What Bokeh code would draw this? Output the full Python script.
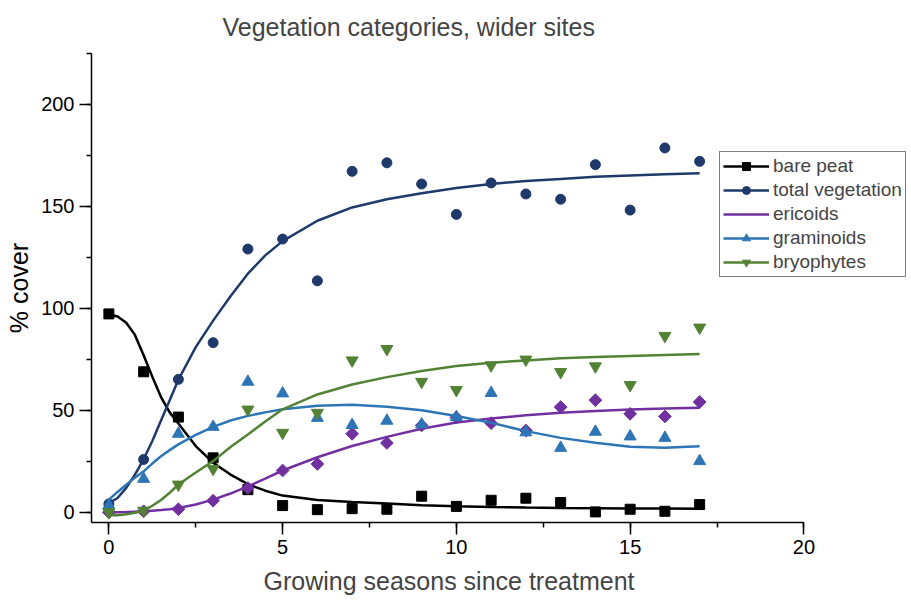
from bokeh.plotting import figure
from bokeh.models import Range1d, Legend, LegendItem, SingleIntervalTicker, Title
from bokeh.embed import file_html
from bokeh.resources import INLINE
import math

# ---- data ----
years = list(range(18))
bare_peat = [97.3, 68.9, 46.7, 26.7, 11.1, 3.3, 1.3, 1.8, 1.5, 7.9, 2.9, 5.9, 6.9, 4.8, 0.2, 1.5, 0.5, 3.8]
total_veg = [4.1, 25.9, 65.2, 83.2, 129.1, 134.0, 113.5, 167.2, 171.4, 161.0, 146.1, 161.5, 156.1, 153.5, 170.5, 148.2, 178.7, 172.1]
ericoids = [0.0, 0.5, 1.5, 5.7, 11.9, 20.5, 23.7, 38.5, 34.0, 42.6, 46.5, 43.7, 40.1, 51.6, 55.0, 48.3, 47.0, 54.1]
graminoids = [3.4, 16.4, 38.5, 41.9, 64.0, 58.3, 46.3, 42.8, 44.9, 43.1, 46.7, 58.5, 39.2, 31.6, 39.5, 37.2, 36.5, 25.1]
bryophytes = [0.0, 0.8, 13.6, 21.3, 50.4, 39.0, 48.8, 74.5, 80.1, 64.0, 60.0, 72.1, 74.9, 68.8, 71.6, 62.4, 86.5, 90.6]

# fitted curves
fit_x = [0, 0.25, 0.5, 0.75, 1, 1.25, 1.5, 1.75, 2, 2.5, 3, 3.5, 4, 4.5, 5, 6, 7, 8, 9, 10, 11, 12, 13, 14, 15, 16, 17]
bare_fit = [97.0, 96.0, 93.0, 87.0, 77.0, 66.5, 56.5, 49.0, 43.5, 32.5, 24.3, 18.5, 13.8, 10.6, 8.2, 6.0, 5.0, 4.3, 3.5, 3.0, 2.6, 2.3, 2.1, 2.0, 1.9, 1.9, 1.8]
total_fit = [4.5, 7.0, 12.0, 18.5, 26.0, 35.0, 45.0, 55.0, 65.0, 81.0, 94.0, 106.0, 117.0, 126.0, 133.0, 143.0, 149.5, 153.5, 156.5, 159.0, 161.0, 162.5, 163.5, 164.5, 165.2, 165.8, 166.3]
eric_fit = [0.0, 0.0, 0.1, 0.3, 0.5, 0.8, 1.1, 1.5, 2.1, 3.8, 6.2, 9.2, 12.7, 16.5, 20.5, 27.0, 32.5, 37.0, 41.0, 44.0, 46.0, 47.6, 48.8, 49.7, 50.4, 50.9, 51.3]
gram_fit = [6.2, 10.0, 13.5, 17.0, 20.1, 23.9, 27.5, 30.5, 33.3, 38.0, 41.9, 45.0, 47.3, 49.0, 50.5, 52.2, 52.8, 51.8, 50.0, 47.2, 43.9, 39.8, 36.5, 34.1, 32.1, 31.6, 32.4]
bryo_fit = [-1.5, -1.4, -1.0, -0.2, 0.8, 3.2, 6.0, 9.6, 13.6, 19.5, 25.1, 32.0, 38.2, 44.5, 50.5, 57.8, 62.7, 66.3, 69.3, 71.7, 73.4, 74.5, 75.5, 76.2, 76.7, 77.2, 77.6]

labels = ["bare peat", "total vegetation", "ericoids", "graminoids", "bryophytes"]
colors = ["#000000", "#1F3A6A", "#7030A0", "#2E75B6", "#548235"]
markers = ["square", "circle", "square", "triangle", "inverted_triangle"]
legend_markers = ["square", "circle", "diamond", "triangle", "inverted_triangle"]
angles = [0, 0, math.pi / 4, 0, 0]
sizes = [10, 10, 9, 12, 12]
points = [bare_peat, total_veg, ericoids, graminoids, bryophytes]
fits = [bare_fit, total_fit, eric_fit, gram_fit, bryo_fit]

FONT = "Liberation Sans"

p = figure(width=908, height=604, output_backend="svg", toolbar_location=None,
           x_range=Range1d(-0.5, 23.01), y_range=Range1d(-5, 225),
           min_border_left=91, min_border_right=0, min_border_top=53, min_border_bottom=82)
p.xgrid.visible = False
p.ygrid.visible = False
p.outline_line_color = None
p.background_fill_color = "white"

p.title.text = "Vegetation categories, wider sites"
p.title.text_font = FONT
p.title.text_font_size = "25px"
p.title.text_font_style = "normal"
p.title.align = "left"
p.title.offset = 131
p.title.standoff = 22
p.title.vertical_align = "top"

# x-axis title, placed under the axis and centred over the 0..20 span
p.add_layout(Title(text="Growing seasons since treatment", text_font=FONT, text_font_size="25px",
                   text_font_style="normal", align="left", offset=172, standoff=16,
                   vertical_align="bottom"), "below")

p.xaxis.ticker = SingleIntervalTicker(interval=5, num_minor_ticks=2)
p.yaxis.ticker = SingleIntervalTicker(interval=50, num_minor_ticks=2)
p.xaxis.bounds = (-0.5, 20)
p.yaxis.axis_label = "% cover"
for ax in (p.xaxis[0], p.yaxis[0]):
    ax.axis_line_width = 1.5
    ax.axis_line_color = "black"
    ax.major_tick_line_width = 1.5
    ax.minor_tick_line_width = 1.5
    ax.major_tick_line_color = "black"
    ax.minor_tick_line_color = "black"
    ax.major_tick_out = 12
    ax.major_tick_in = 0
    ax.minor_tick_out = 5
    ax.minor_tick_in = 0
    ax.major_label_text_font = FONT
    ax.major_label_text_font_size = "20px"
    ax.major_label_text_color = "black"
    ax.axis_label_text_font = FONT
    ax.axis_label_text_font_size = "25px"
    ax.axis_label_text_font_style = "normal"
    ax.axis_label_text_color = "black"

items = []
for lab, col, mk, lmk, ang, sz, pts, ft in zip(labels, colors, markers, legend_markers, angles, sizes, points, fits):
    lr = p.line(fit_x, ft, line_color=col, line_width=2.5)
    sr = p.scatter(years, pts, marker=mk, angle=ang, size=sz, fill_color=col, line_color=col)
    if lmk != mk:
        # legend-only marker (no data), so the legend shows a diamond
        gr = p.scatter([], [], marker=lmk, size=sz, fill_color=col, line_color=col)
        items.append(LegendItem(label=lab, renderers=[lr, gr]))
    else:
        items.append(LegendItem(label=lab, renderers=[lr, sr]))

legend = Legend(items=items, location=(628, 245))
legend.border_line_color = "black"
legend.border_line_width = 1
legend.background_fill_color = "white"
legend.background_fill_alpha = 1
legend.label_text_font = FONT
legend.label_text_font_size = "19px"
legend.glyph_width = 46
legend.glyph_height = 20
legend.spacing = 2
legend.padding = 3
legend.margin = 0
legend.label_standoff = 4
legend.label_height = 20
p.add_layout(legend)

open("out.html", "w").write(file_html(p, INLINE))
